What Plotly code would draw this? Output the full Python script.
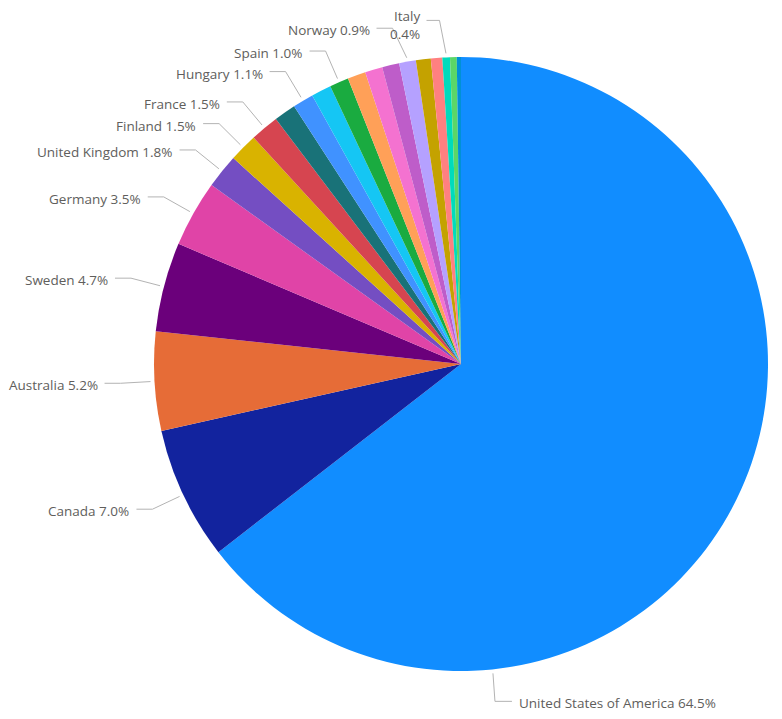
import math
import plotly.graph_objects as go

# ---- data ----
countries = ["United States of America", "Canada", "Australia", "Sweden", "Germany",
             "United Kingdom", "Finland", "France", "Country 9", "Hungary", "Country 11",
             "Spain", "Country 13", "Country 14", "Country 15", "Norway", "Country 17",
             "Country 18", "Italy", "Country 20", "Country 21"]
values = [64.5, 7.0, 5.2, 4.7, 3.5, 1.8, 1.5, 1.5, 1.15, 1.1, 1.05,
          1.0, 0.95, 0.92, 0.9, 0.88, 0.78, 0.6, 0.4, 0.35, 0.22]
labeled = ["United States of America", "Canada", "Australia", "Sweden", "Germany",
           "United Kingdom", "Finland", "France", "Hungary", "Spain", "Norway", "Italy"]
colors = ["#118DFF", "#12239E", "#E66C37", "#6B007B", "#E044A7", "#744EC2", "#D9B300",
          "#D64550", "#197278", "#4092FF", "#15C6F4", "#1AAB40", "#FFA058", "#F472D0",
          "#BE5DC9", "#B5A1FF", "#C4A200", "#FF8080", "#00DBBC", "#5BD667", "#0091D5"]

# ---- layout geometry (pixels, page coords; page body has 8px margin) ----
OFF = 8
W, H = 782 - OFF, 719 - OFF
CX, CY, R = 461 - OFF, 364 - OFF, 307


def px2paper(x, y):
    return x / W, 1 - y / H


fig = go.Figure(go.Pie(
    labels=countries, values=values, sort=False, direction="clockwise", rotation=0,
    marker=dict(colors=colors, line=dict(width=0)), textinfo="none",
    domain=dict(x=[(CX - R) / W, (CX + R) / W], y=[1 - (CY + R) / H, 1 - (CY - R) / H]),
    hoverinfo="label+percent", showlegend=False,
))

total = sum(values)
# label style tweaks: start angle override (deg), elbow offsets, horizontal length, text shift
tweaks = {
    "United States of America": dict(angle=174.1, elbow=(2, 28), hlen=17),
    "Norway": dict(elbow_dx=-9),
    "Italy": dict(elbow_dx=-5, elbow_dy=-3, hlen=13, text_dy=3),
}

shapes, annotations = [], []
cum = 0.0
for name, v in zip(countries, values):
    start = cum
    cum += v
    if name not in labeled:
        continue
    pct = 100 * v / total
    t = tweaks.get(name, {})
    ang = t.get("angle", 360 * (start + v / 2) / total)
    a = math.radians(ang)
    sx, sy = CX + (R + 4) * math.sin(a), CY - (R + 4) * math.cos(a)
    if "elbow" in t:
        ex, ey = sx + t["elbow"][0], sy + t["elbow"][1]
    else:
        ex = CX + (R + 34) * math.sin(a) + t.get("elbow_dx", 0)
        ey = CY - (R + 34) * math.cos(a) + t.get("elbow_dy", 0)
    right = math.sin(a) > 0.05 or name == "United States of America"
    hlen = t.get("hlen", 16)
    hx = ex + hlen if right else ex - hlen
    p0, p1, p2 = px2paper(sx, sy), px2paper(ex, ey), px2paper(hx, ey)
    shapes.append(dict(type="path", xref="paper", yref="paper",
                       path=f"M {p0[0]},{p0[1]} L {p1[0]},{p1[1]} L {p2[0]},{p2[1]}",
                       line=dict(color="#B3B3B3", width=1)))
    if name == "Italy":
        txt = f"{name}<br>{pct:.1f}%"
    else:
        txt = f"{name} {pct:.1f}%"
    tx, ty = px2paper(hx + (5 if right else -5), ey + 2 + t.get("text_dy", 0))
    annotations.append(dict(x=tx, y=ty, xref="paper", yref="paper", text=txt,
                            showarrow=False, xanchor="left" if right else "right",
                            yanchor="middle", align="right",
                            font=dict(family="Open Sans, sans-serif", size=13.5,
                                      color="#605E5C")))

fig.update_layout(width=W, height=H, margin=dict(l=0, r=0, t=0, b=0),
                  paper_bgcolor="white", plot_bgcolor="white",
                  shapes=shapes, annotations=annotations)
fig.write_html("out.html")
